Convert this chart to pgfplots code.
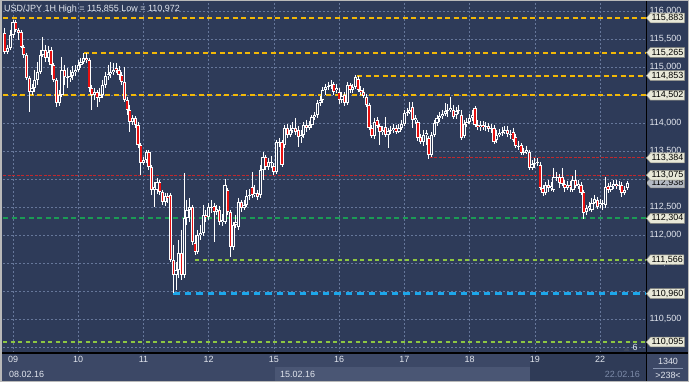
\documentclass[border=0pt]{standalone}
\usepackage{pgfplots}
\pgfplotsset{compat=1.18}
\usepackage{pgfplotstable}
\usepackage{fontspec}
\setmainfont{Liberation Sans}
\usetikzlibrary{shapes.symbols}
\definecolor{bg}{HTML}{2E3B59}
\definecolor{strip}{HTML}{3C4866}
\definecolor{boxc}{HTML}{4A5674}
\definecolor{darkc}{HTML}{2F3B57}
\definecolor{gridc}{HTML}{66779A}
\definecolor{txt}{HTML}{E2E6EE}
\definecolor{gold}{HTML}{F2B807}
\definecolor{lvred}{HTML}{C0282D}
\definecolor{dgreen}{HTML}{1B9B55}
\definecolor{lgreen}{HTML}{8DC642}
\definecolor{lblue}{HTML}{1CA6EA}
\definecolor{tagc}{HTML}{E8E8D8}
\definecolor{tagb}{HTML}{8A8A80}
\definecolor{graytag}{HTML}{B4BAC4}
\definecolor{bearred}{HTML}{E81010}
\tikzset{tagstyle/.style={shape=signal, signal to=west, signal pointer angle=100, fill=tagc, draw=tagb, line width=0.5bp, text=black, inner xsep=1.2bp, inner ysep=1.2bp, anchor=west, font=\fontsize{9}{10}\selectfont},
  numfmt/.style={
  /pgf/number format/fixed, /pgf/number format/fixed zerofill, /pgf/number format/precision=3,
  /pgf/number format/use comma, /pgf/number format/1000 sep={}, /pgf/number format/assume math mode=true}}
\pgfplotsset{candle/.style={draw=none, mark=none, forget plot, error bars/.cd, y dir=minus, y explicit, error mark=none}}

\pgfplotstableread{
h O H L C
-3 115.615 115.704 115.240 115.275
-2 115.275 115.400 115.240 115.347
-1 115.347 115.668 115.311 115.579
0 115.579 115.847 115.525 115.811
1 115.811 115.847 115.633 115.668
2 115.668 115.704 115.490 115.615
3 115.633 115.668 115.347 115.365
4 115.365 115.400 115.168 115.222
5 115.222 115.258 114.775 114.811
6 114.811 114.847 114.204 114.561
7 114.561 114.704 114.508 114.633
8 114.633 114.954 114.561 114.775
9 114.775 115.097 114.686 114.918
10 114.918 115.311 114.883 115.222
11 115.222 115.543 115.186 115.311
12 115.311 115.400 115.097 115.168
13 115.168 115.383 115.097 115.275
14 115.311 115.365 114.865 115.043
15 115.043 115.079 114.740 114.775
16 114.775 114.811 114.293 114.365
17 114.365 114.597 114.311 114.508
18 114.508 115.186 114.472 114.954
19 114.954 115.043 114.686 114.829
20 114.829 114.990 114.633 114.811
21 114.811 114.954 114.740 114.847
22 114.847 115.025 114.775 114.918
23 114.918 115.043 114.847 114.954
24 114.954 115.133 114.918 115.043
25 115.043 115.168 114.990 115.097
26 115.097 115.258 115.061 115.168
27 115.168 115.258 115.079 115.133
28 115.133 115.168 114.561 114.633
29 114.633 114.686 114.240 114.508
30 114.508 114.633 114.418 114.561
31 114.561 114.597 114.293 114.454
32 114.454 114.633 114.383 114.508
33 114.508 114.775 114.454 114.686
34 114.686 114.918 114.633 114.847
35 114.847 115.043 114.775 114.883
36 114.883 115.097 114.811 114.918
37 114.918 115.079 114.865 114.954
38 114.990 115.079 114.900 114.954
39 114.954 115.025 114.775 114.865
40 114.865 114.918 114.686 114.740
41 114.740 115.008 114.383 114.418
42 114.418 114.472 114.150 114.240
43 114.240 114.329 113.847 114.025
44 114.025 114.150 113.972 114.097
45 114.097 114.133 113.918 113.972
46 113.972 114.025 113.561 113.615
47 113.615 113.650 113.079 113.293
48 113.293 113.400 113.258 113.347
49 113.347 113.525 113.293 113.490
50 113.490 113.525 113.168 113.222
51 113.222 113.258 112.722 112.811
52 112.811 112.954 112.508 112.865
53 112.811 113.025 112.740 112.954
54 112.954 112.990 112.722 112.775
55 112.775 112.811 112.543 112.597
56 112.597 112.758 112.525 112.704
57 112.704 112.758 112.579 112.668
58 112.722 112.758 111.525 111.561
59 111.561 111.829 110.972 111.293
60 111.293 111.525 111.025 111.383
61 111.383 111.918 111.240 111.686
62 111.686 112.097 111.204 111.293
63 111.293 113.115 111.240 112.311
64 112.311 112.633 112.186 112.454
65 112.454 112.668 112.240 112.508
66 112.508 112.543 111.829 111.883
67 111.865 112.008 111.650 111.704
68 111.704 112.097 111.668 112.008
69 112.008 112.186 111.918 112.043
70 112.043 112.543 111.990 112.365
71 112.365 112.454 112.240 112.329
72 112.329 112.579 112.275 112.508
73 112.508 112.633 112.400 112.490
74 112.525 112.579 111.883 112.418
75 112.418 112.543 112.365 112.472
76 112.454 112.525 112.186 112.240
77 112.240 112.383 112.168 112.275
78 112.240 113.008 112.204 112.900
79 112.811 112.847 112.365 112.418
80 112.418 112.454 111.615 111.793
81 111.793 112.240 111.740 112.186
82 112.186 112.365 112.133 112.240
83 112.150 112.668 112.097 112.597
84 112.597 112.633 112.418 112.490
85 112.490 112.633 112.454 112.543
86 112.543 112.811 112.508 112.704
87 112.704 112.829 112.633 112.722
88 112.865 113.133 112.668 112.722
89 112.722 112.900 112.686 112.758
90 112.758 112.811 112.633 112.686
91 112.722 113.258 112.668 113.168
92 113.168 113.490 112.990 113.400
93 113.400 113.436 113.168 113.222
94 113.222 113.383 113.168 113.311
95 113.311 113.418 113.204 113.293
96 113.240 113.293 113.079 113.133
97 113.133 113.704 113.097 113.668
98 113.668 113.740 113.579 113.650
99 113.668 113.704 113.222 113.258
100 113.615 113.972 113.561 113.918
101 113.918 113.990 113.740 113.793
102 113.793 113.972 113.758 113.883
103 113.883 114.025 113.829 113.918
104 113.918 114.097 113.793 113.847
105 113.883 113.954 113.579 113.758
106 113.758 113.883 113.650 113.793
107 113.793 114.025 113.740 113.972
108 113.972 114.061 113.847 113.918
109 113.918 114.043 113.883 113.972
110 113.972 114.150 113.918 114.115
111 114.115 114.204 114.061 114.150
112 114.150 114.418 114.097 114.365
113 114.365 114.490 114.311 114.418
114 114.418 114.650 114.365 114.597
115 114.597 114.704 114.508 114.650
116 114.650 114.740 114.597 114.668
117 114.668 114.775 114.615 114.686
118 114.704 114.740 114.508 114.561
119 114.597 114.704 114.543 114.633
120 114.561 114.633 114.347 114.418
121 114.418 114.561 114.365 114.490
122 114.508 114.561 114.311 114.365
123 114.365 114.740 114.329 114.686
124 114.686 114.722 114.543 114.597
125 114.597 114.704 114.543 114.650
126 114.650 114.865 114.615 114.829
127 114.793 114.847 114.561 114.597
128 114.597 114.668 114.508 114.561
129 114.561 114.633 114.454 114.490
130 114.472 114.525 114.293 114.329
131 114.329 114.365 113.883 113.918
132 113.918 113.972 113.740 113.775
133 113.775 114.097 113.722 114.025
134 114.061 114.115 113.918 113.954
135 113.954 113.990 113.615 113.847
136 113.847 113.954 113.793 113.883
137 113.936 114.115 113.758 113.793
138 113.793 113.918 113.561 113.865
139 113.865 113.954 113.811 113.883
140 113.883 113.990 113.829 113.918
141 113.918 113.972 113.811 113.847
142 113.847 113.990 113.829 113.918
143 113.918 114.061 113.883 113.990
144 113.990 114.240 113.954 114.186
145 114.186 114.275 114.133 114.204
146 114.204 114.383 114.168 114.240
147 114.293 114.383 113.918 114.061
148 114.061 114.150 113.990 114.097
149 114.025 114.061 113.686 113.740
150 113.758 113.811 113.633 113.668
151 113.668 113.883 113.597 113.793
152 113.793 113.883 113.615 113.829
153 113.740 113.775 113.365 113.436
154 113.436 113.847 113.400 113.793
155 113.793 114.061 113.758 114.008
156 114.008 114.150 113.954 114.097
157 114.097 114.204 114.025 114.133
158 114.133 114.240 114.079 114.168
159 114.168 114.365 114.133 114.222
160 114.222 114.347 114.115 114.240
161 114.240 114.472 114.204 114.275
162 114.240 114.329 114.079 114.115
163 114.150 114.293 114.079 114.222
164 114.222 114.329 114.168 114.240
165 114.150 114.240 113.704 113.740
166 113.775 114.061 113.740 113.990
167 113.990 114.097 113.936 114.025
168 114.025 114.168 113.990 114.097
169 114.097 114.240 114.043 114.150
170 114.275 114.311 113.936 113.972
171 113.972 114.061 113.883 113.936
172 113.936 114.043 113.865 113.972
173 113.972 114.043 113.883 113.936
174 113.936 114.025 113.865 113.954
175 113.954 114.008 113.847 113.900
176 113.900 113.990 113.829 113.918
177 113.918 113.972 113.633 113.668
178 113.704 113.883 113.650 113.793
179 113.793 113.900 113.758 113.829
180 113.829 113.936 113.775 113.847
181 113.847 113.954 113.811 113.883
182 113.883 113.954 113.758 113.811
183 113.811 113.883 113.722 113.793
184 113.847 113.918 113.668 113.704
185 113.758 113.811 113.561 113.597
186 113.597 113.686 113.525 113.579
187 113.615 113.650 113.436 113.472
188 113.472 113.561 113.436 113.490
189 113.490 113.597 113.454 113.525
190 113.490 113.525 113.168 113.204
191 113.204 113.347 113.168 113.275
192 113.275 113.383 113.204 113.293
193 113.293 113.383 113.240 113.311
194 113.258 113.311 112.811 112.847
195 112.847 112.900 112.704 112.758
196 112.758 112.954 112.722 112.900
197 112.900 112.990 112.775 112.847
198 112.847 112.954 112.793 112.883
199 112.811 113.204 112.775 113.043
200 113.043 113.133 112.972 113.025
201 113.043 113.097 112.847 112.936
202 113.043 113.204 112.883 112.918
203 112.918 112.990 112.775 112.847
204 112.847 112.972 112.811 112.900
205 112.900 112.972 112.775 112.865
206 112.811 113.061 112.775 112.990
207 112.990 113.168 112.847 112.883
208 112.883 112.990 112.829 112.918
209 112.900 112.954 112.722 112.758
210 112.775 112.811 112.293 112.400
211 112.418 112.543 112.365 112.490
212 112.490 112.597 112.436 112.525
213 112.454 112.668 112.418 112.579
214 112.579 112.722 112.561 112.650
215 112.633 112.686 112.472 112.508
216 112.543 112.650 112.490 112.579
217 112.579 112.633 112.454 112.561
218 112.543 113.043 112.490 112.865
219 112.883 112.936 112.758 112.811
220 112.811 112.954 112.775 112.883
221 112.883 112.990 112.829 112.918
222 112.918 112.990 112.829 112.883
223 112.883 112.972 112.811 112.900
224 112.900 112.954 112.686 112.758
225 112.758 112.883 112.722 112.811
226 112.847 112.972 112.811 112.938
}\candles

\begin{document}
\begin{tikzpicture}[x=1bp,y=1bp]
\path[use as bounding box, fill=bg] (0,0) rectangle (689,382);
\fill[strip] (0,0) rectangle (646,29);
\fill[boxc] (275,0) rectangle (530,15);
\fill[darkc] (530,0) rectangle (646,29);
\fill[strip] (646,0) rectangle (689,29);

\begin{axis}[
  at={(3bp,29bp)}, anchor=south west,
  scale only axis, width=643bp, height=350bp,
  xmin=-3.68, xmax=232.9, ymin=109.9, ymax=116.15,
  axis background/.style={fill=bg},
  axis line style={draw=none},
  major tick length=0pt,
  xtick={0,24,48,72,96,120,144,168,192,216},
  xticklabels={09,10,11,12,15,16,17,18,19,22},
  ytick={110,110.5,111,111.5,112,112.5,113,113.5,114,114.5,115,115.5,116},
  yticklabels={{},{110,500},{},{111,500},{112,000},{112,500},{},{113,500},{114,000},{},{115,000},{115,500},{116,000}},
  yticklabel pos=right,
  grid=major,
  grid style={gridc, line width=0.7bp, dash pattern=on 2bp off 2bp},
  tick label style={text=txt, font=\fontsize{9}{10}\selectfont},
  yticklabel style={anchor=west},
  extra y ticks={112.938},
  extra y tick style={grid=none, yticklabel style={/tikz/numfmt, /tikz/tagstyle, fill=graytag}},
]
% level lines
\addplot[gold, line width=2bp, dash pattern=on 5bp off 3.5bp] coordinates {(-3.68,115.883) (232.9,115.883)};
\addplot[gold, line width=2bp, dash pattern=on 5bp off 3.5bp] coordinates {(26.1,115.265) (232.9,115.265)};
\addplot[gold, line width=2bp, dash pattern=on 5bp off 3.5bp] coordinates {(126.6,114.853) (232.9,114.853)};
\addplot[gold, line width=2bp, dash pattern=on 5bp off 3.5bp] coordinates {(-3.68,114.502) (232.9,114.502)};
\addplot[lvred, line width=1.2bp, dash pattern=on 3bp off 1.5bp] coordinates {(153.4,113.384) (232.9,113.384)};
\addplot[lvred, line width=1.2bp, dash pattern=on 3bp off 1.5bp] coordinates {(-3.68,113.075) (232.9,113.075)};
\addplot[dgreen, line width=2.2bp, dash pattern=on 5bp off 3.5bp] coordinates {(-3.68,112.304) (232.9,112.304)};
\addplot[lgreen, line width=2bp, dash pattern=on 4bp off 3.5bp] coordinates {(67,111.566) (232.9,111.566)};
\addplot[lblue, line width=2.6bp, dash pattern=on 6.5bp off 5bp] coordinates {(58.9,110.960) (232.9,110.960)};
\addplot[lgreen, line width=2bp, dash pattern=on 4bp off 3.5bp] coordinates {(-3.68,110.095) (232.9,110.095)};
% wicks
\addplot[candle, error bar style={white, line width=1bp, solid}]
  table[x=h, y=H, y error minus expr={\thisrow{H}-\thisrow{L}}] {\candles};
% body outline
\addplot[candle, error bar style={white, line width=3.2bp, solid}]
  table[x=h, y expr={max(\thisrow{O},\thisrow{C})}, y error minus expr={max(abs(\thisrow{O}-\thisrow{C}),0.02)}] {\candles};
% bullish hollow interior
\addplot[candle, error bar style={bg, line width=1.3bp, solid}]
  table[x=h, y expr={\thisrow{C}-0.017}, y error minus expr={max(\thisrow{C}-\thisrow{O}-0.034,0)}] {\candles};
% bearish red interior
\addplot[candle, error bar style={bearred, line width=1.6bp, solid}]
  table[x=h, y expr={\thisrow{O}-0.017}, y error minus expr={max(\thisrow{O}-\thisrow{C}-0.034,0)}] {\candles};
\end{axis}

\draw[black, line width=1.2bp] (646.6,0) -- (646.6,382);
\draw[black, line width=1.2bp] (0,29) -- (689,29);

\begin{axis}[
  at={(3bp,29bp)}, anchor=south west,
  scale only axis, width=643bp, height=350bp,
  xmin=-3.68, xmax=232.9, ymin=109.9, ymax=116.15,
  axis line style={draw=none},
  major tick length=0pt,
  xtick=\empty, ytick=\empty,
  yticklabel pos=right,
  yticklabel style={/tikz/numfmt},
  extra y ticks={115.883,115.265,114.853,114.502,113.384,113.075,112.304,111.566,110.960,110.095},
  extra y tick style={grid=none, yticklabel style={/tikz/tagstyle}},
]
\end{axis}

\node[anchor=west, text=txt, font=\fontsize{9}{10}\selectfont, inner sep=0pt] at (4,373) {USD/JPY 1H High = 115,855 Low = 110,972};
\node[anchor=west, text=txt, font=\fontsize{9}{10}\selectfont, inner sep=0pt] at (9,8) {08.02.16};
\node[anchor=west, text=txt, font=\fontsize{9}{10}\selectfont, inner sep=0pt] at (280,8) {15.02.16};
\node[anchor=east, text=gridc!85!white, font=\fontsize{9}{10}\selectfont, inner sep=0pt] at (640,8) {22.02.16};
\node[text=txt, font=\fontsize{9}{10}\selectfont, inner sep=0pt] at (668,21) {1340};
\node[text=txt, font=\fontsize{9}{10}\selectfont, inner sep=0pt] at (668,7) {>238<};
\draw[gridc!80!white, line width=0.6bp] (653,14) -- (683,14);
\node[text=txt, font=\fontsize{9}{10}\selectfont, inner sep=0pt] at (635,35) {6};
\fill[gridc!60!black] (623.5,31) -- (629.5,31) -- (626.5,35) -- cycle;
\draw[gray!55, line width=1.5bp] (0.75,0.75) rectangle (688.25,381.25);
\end{tikzpicture}
\end{document}
